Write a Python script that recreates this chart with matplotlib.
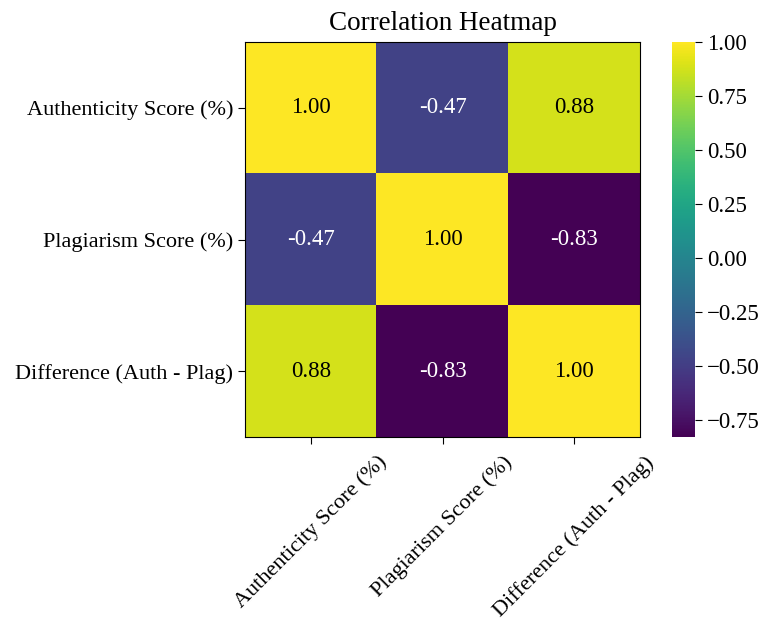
import matplotlib
matplotlib.use("Agg")
import matplotlib.pyplot as plt
import numpy as np

labels = ["Authenticity Score (%)", "Plagiarism Score (%)", "Difference (Auth - Plag)"]
row_auth = [1.00, -0.47, 0.88]
row_plag = [-0.47, 1.00, -0.83]
row_diff = [0.88, -0.83, 1.00]
corr = np.array([row_auth, row_plag, row_diff])
cbar_ticks = [-0.75, -0.50, -0.25, 0.00, 0.25, 0.50, 0.75, 1.00]

plt.rcParams['font.family'] = ['Liberation Serif', 'DejaVu Serif']

fig = plt.figure(figsize=(7.62, 6.2), dpi=100)
ax = fig.add_axes([245/762, 1-437/620, 395/762, 395/620])
cax = fig.add_axes([672/762, 1-437/620, 23/762, 395/620])

im = ax.imshow(corr, cmap='viridis', aspect='auto')
for i in range(3):
    for j in range(3):
        v = corr[i, j]
        ax.text(j, i, f"{v:.2f}", ha='center', va='center',
                color='black' if v > 0.5 else 'white', fontsize=16.5)

ax.set_xticks(range(3))
ax.set_yticks(range(3))
ax.set_xticklabels(labels, rotation=45, fontsize=16)
ax.set_yticklabels(labels, fontsize=16)
ax.tick_params(length=5)
ax.tick_params(axis='x', pad=6)
ax.set_title("Correlation Heatmap", fontsize=19.5, pad=9)

cb = fig.colorbar(im, cax=cax, ticks=cbar_ticks)
cb.outline.set_visible(False)
cb.ax.tick_params(labelsize=16.5, length=5)
cb.ax.set_yticklabels([f"{t:.2f}".replace('-', '\u2212') for t in cbar_ticks])

fig.savefig("out.png", dpi=100)
